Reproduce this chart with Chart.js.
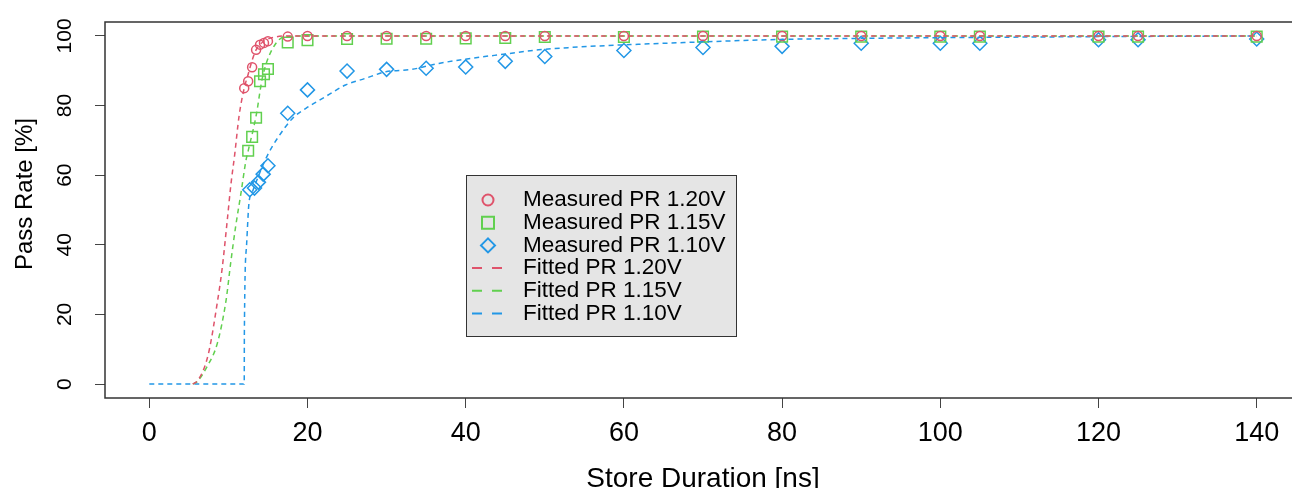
<!DOCTYPE html>
<html>
<head>
<meta charset="utf-8">
<script src="https://cdn.jsdelivr.net/npm/chart.js@4.4.1/dist/chart.umd.min.js"></script>
<style>
html, body { margin: 0; padding: 0; background: #fff; overflow: hidden; }
#wrap { width: 1310px; height: 488px; }
</style>
</head>
<body>
<div id="wrap"><canvas id="prChart" width="1310" height="488"></canvas></div>
<script>
// axis ticks
var xTicks = [0, 20, 40, 60, 80, 100, 120, 140];
var yTicks = [0, 20, 40, 60, 80, 100];

// measured pass rate
var x120 = [12, 12.5, 13, 13.5, 14, 14.5, 15, 17.5, 20, 25, 30, 35, 40, 45, 50, 60, 70, 80, 90, 100, 105, 120, 125, 140];
var pr120 = [85, 87, 91, 96, 97.5, 98, 98.5, 99.8, 100, 100, 100, 100, 100, 100, 100, 100, 100, 100, 100, 100, 100, 100, 100, 100];

var x115 = [12.5, 13, 13.5, 14, 14.5, 15, 17.5, 20, 25, 30, 35, 40, 45, 50, 60, 70, 80, 90, 100, 105, 120, 125, 140];
var pr115 = [67, 71, 76.5, 87, 89, 90.5, 98.1, 98.8, 99.1, 99.2, 99.2, 99.3, 99.4, 99.7, 99.7, 99.8, 99.8, 99.8, 99.8, 99.8, 99.8, 99.8, 99.8];

var x110 = [12.7, 13.3, 13.8, 14.4, 15, 17.5, 20, 25, 30, 35, 40, 45, 50, 60, 70, 80, 90, 100, 105, 120, 125, 140];
var pr110 = [55.8, 56.3, 58, 60.3, 62.7, 77.8, 84.5, 89.9, 90.4, 90.7, 91.1, 92.7, 94.1, 95.8, 96.7, 97, 97.9, 97.9, 97.9, 98.9, 98.9, 99.1];

// fitted curves
var fitX120 = [5.5, 6.1, 7, 7.6, 8.5, 9.2, 9.9, 10.3, 10.8, 11.35, 12, 12.5, 13, 13.5, 14.5, 16, 17.5, 140];
var fitY120 = [0, 1, 5, 10, 22, 33, 48, 57, 66, 77, 85, 89, 93, 96, 98.5, 99.7, 100, 100];

var fitX115 = [5.5, 6.05, 7.3, 8.6, 9.7, 10.3, 10.9, 11.6, 12.2, 12.5, 13.5, 14.3, 15.5, 17.2, 20, 140];
var fitY115 = [0, 0.7, 5, 11.7, 24, 35, 45, 55, 64, 67, 77, 88, 96, 99.8, 100, 100];

var fitX110 = [0, 12, 12.02, 12.3, 12.6, 13, 13.5, 14.2, 15, 16.2, 18.1, 19.8, 22.3, 24.8, 27.3, 29.9, 33.2, 36.6, 40.8, 45, 49.2, 53.4, 57.6, 61.8, 70, 80, 90, 100, 120, 140];
var fitY110 = [0, 0, 15, 40, 52, 55, 58, 62, 66, 70.6, 76.3, 79.2, 82.6, 85.9, 87.8, 89.7, 90.4, 92.1, 93.6, 94.8, 96, 96.7, 97.2, 97.6, 98.3, 99, 99.3, 99.5, 99.8, 100];

var measLabels = ['Measured PR 1.20V', 'Measured PR 1.15V', 'Measured PR 1.10V'];
var fitLabels = ['Fitted PR 1.20V', 'Fitted PR 1.15V', 'Fitted PR 1.10V'];

var colors = ['#DF536B', '#61D04F', '#2297E6'];
var shapes = ['circle', 'rect', 'rectRot'];
var radii = [4.5, 7.5, 7];
var FONT = "'Liberation Sans', Arial, sans-serif";

function xy(xs, ys) {
    return xs.map(function (x, i) { return { x: x, y: ys[i] }; });
}

var measured = [[x120, pr120], [x115, pr115], [x110, pr110]];
var fitted = [[fitX120, fitY120], [fitX115, fitY115], [fitX110, fitY110]];

var datasets = [];
measured.forEach(function (m, i) {
    datasets.push({
        label: measLabels[i],
        data: xy(m[0], m[1]),
        showLine: false,
        pointStyle: shapes[i],
        pointRadius: radii[i],
        pointBorderColor: colors[i],
        pointBackgroundColor: 'rgba(0,0,0,0)',
        pointBorderWidth: 1.5,
        borderColor: colors[i],
        order: 2
    });
});
fitted.forEach(function (f, i) {
    datasets.push({
        label: fitLabels[i],
        data: xy(f[0], f[1]),
        showLine: true,
        pointRadius: 0,
        borderColor: colors[i],
        borderWidth: 1.5,
        borderDash: [5, 4],
        cubicInterpolationMode: 'monotone',
        fill: false,
        order: 1
    });
});

var decor = {
    id: 'decor',
    afterDraw: function (chart) {
        var ctx = chart.ctx;
        var a = chart.chartArea;
        var ys = chart.scales.y;

        ctx.save();
        // plot box
        ctx.strokeStyle = '#333';
        ctx.lineWidth = 1.5;
        ctx.strokeRect(a.left, a.top, a.right - a.left, a.bottom - a.top);

        // rotated y tick labels
        ctx.fillStyle = '#000';
        ctx.font = '21px ' + FONT;
        ctx.textAlign = 'center';
        ctx.textBaseline = 'middle';
        yTicks.forEach(function (v) {
            ctx.save();
            ctx.translate(65, ys.getPixelForValue(v));
            ctx.rotate(-Math.PI / 2);
            ctx.fillText(String(v), 0, 0);
            ctx.restore();
        });

        // axis titles
        ctx.font = '28px ' + FONT;
        ctx.textBaseline = 'alphabetic';
        ctx.fillText('Store Duration [ns]', (a.left + a.right) / 2, 487);
        ctx.save();
        ctx.font = '24px ' + FONT;
        ctx.translate(32, 194);
        ctx.rotate(-Math.PI / 2);
        ctx.fillText('Pass Rate [%]', 0, 0);
        ctx.restore();

        // legend
        var lx = 466, ly = 175, lw = 270, lh = 161;
        ctx.fillStyle = '#e5e5e5';
        ctx.fillRect(lx, ly, lw, lh);
        ctx.strokeStyle = '#333';
        ctx.lineWidth = 1;
        ctx.strokeRect(lx + 0.5, ly + 0.5, lw, lh);

        var labels = measLabels.concat(fitLabels);
        ctx.font = '22.5px ' + FONT;
        ctx.textAlign = 'left';
        ctx.textBaseline = 'middle';
        labels.forEach(function (t, i) {
            var ry = 200 + i * 22.7;
            var c = colors[i % 3];
            ctx.strokeStyle = c;
            ctx.lineWidth = 2;
            if (i < 3) {
                ctx.beginPath();
                if (shapes[i] === 'circle') {
                    ctx.arc(488, ry, 5.5, 0, Math.PI * 2);
                } else if (shapes[i] === 'rect') {
                    ctx.rect(482, ry - 6, 12, 12);
                } else {
                    ctx.moveTo(488, ry - 7); ctx.lineTo(495, ry);
                    ctx.lineTo(488, ry + 7); ctx.lineTo(481, ry);
                    ctx.closePath();
                }
                ctx.stroke();
            } else {
                ctx.setLineDash([10, 10]);
                ctx.beginPath();
                ctx.moveTo(472, ry);
                ctx.lineTo(502, ry);
                ctx.stroke();
                ctx.setLineDash([]);
            }
            ctx.fillStyle = '#000';
            ctx.fillText(t, 523, ry);
        });
        ctx.restore();
    }
};

new Chart(document.getElementById('prChart'), {
    type: 'scatter',
    data: { datasets: datasets },
    options: {
        responsive: false,
        devicePixelRatio: 1,
        animation: false,
        layout: { padding: { top: 22, right: 6, left: 0, bottom: 0 } },
        plugins: { legend: { display: false }, tooltip: { enabled: false } },
        scales: {
            x: {
                type: 'linear',
                min: -5.6,
                max: 145.6,
                afterBuildTicks: function (s) { s.ticks = xTicks.map(function (v) { return { value: v }; }); },
                afterFit: function (s) { s.height = 90; },
                grid: { drawOnChartArea: false, drawTicks: true, tickLength: 10, color: '#444', lineWidth: 1 },
                border: { display: false },
                ticks: { color: '#000', font: { family: FONT, size: 27 }, padding: 9, maxRotation: 0 }
            },
            y: {
                type: 'linear',
                min: -4,
                max: 104,
                afterBuildTicks: function (s) { s.ticks = yTicks.map(function (v) { return { value: v }; }); },
                afterFit: function (s) { s.width = 105; },
                grid: { drawOnChartArea: false, drawTicks: true, tickLength: 10, color: '#444', lineWidth: 1 },
                border: { display: false },
                ticks: { display: false }
            }
        }
    },
    plugins: [decor]
});
</script>
</body>
</html>
